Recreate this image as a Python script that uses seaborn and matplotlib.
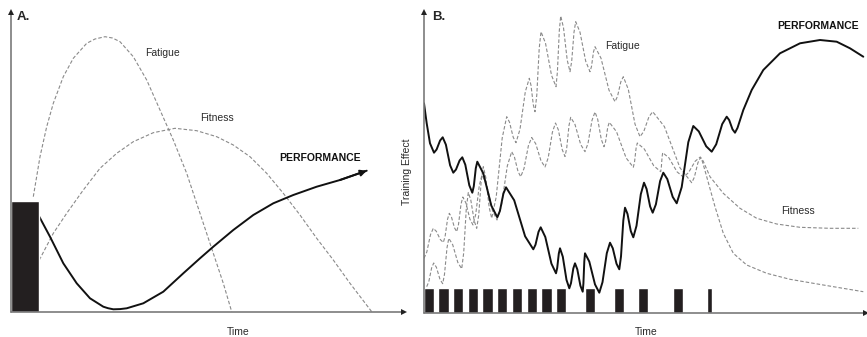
#!/usr/bin/env python3
"""
Two-panel schematic of the fitness-fatigue model: single session (A) vs. a training block (B).
"""

import matplotlib
matplotlib.use("Agg")
import matplotlib.pyplot as plt
import seaborn as sns

# ---- Panel A: single training bout (time / effect units) ----
bout_a_start = [0]
bout_a_len = [28]
bout_a_load = [111]

fatigue_a_t = [22.3, 29, 35.7, 42.3, 52.3, 62.3, 75.7, 84, 94, 101.5, 109, 122.3, 135.7,
               149, 162.3, 175.7, 189, 202.3, 212.3, 220.7]
fatigue_a_v = [115.3, 155.3, 185.3, 208.7, 235.3, 253.7, 268.7, 273, 275.3, 274, 270.3,
               255.3, 232, 202, 172, 138.7, 98.7, 58.7, 28.7, 0.3]

fitness_a_t = [28.3, 42.3, 55.7, 72.3, 89, 105.7, 122.3, 142.3, 164, 185.7, 205.7,
               222.3, 239, 255.7, 272.3, 289, 305.7, 322.3, 339, 360.7]
fitness_a_v = [52, 78.7, 98.7, 122, 143.7, 158.7, 170.3, 179.3, 183.7, 181.3, 175.3,
               167, 155.3, 138.7, 118.7, 97, 73.7, 52, 28.7, 0.3]

perf_a_t = [28.3, 39, 52.3, 65.7, 79, 92.3, 97, 102.3, 109, 115.7, 132.3, 152.3, 172.3,
            189, 202.3, 222.3, 242.3, 262.3, 282.3, 305.7, 329, 355.7]
perf_a_v = [95.3, 75.3, 48.7, 28.7, 13.7, 5.3, 3.8, 2.7, 2.9, 3.7, 8.7, 20.3, 38.7,
            53.7, 65.3, 82, 97, 108.7, 117, 125.3, 132, 141.3]

# ---- Panel B: repeated sessions then taper ----
sess_b_start = [0, 14.3, 29.3, 43.7, 58.3, 73, 87.7, 102.7, 117.3, 131.7,
                161, 190, 214.3, 248.7, 282.7]
sess_b_len = [10, 10.7, 10, 10.6, 10.4, 10.3, 10.6, 10, 10.4, 10,
              10, 10, 10, 10, 5]
sess_b_load = [25] * 15

fatigue_b_t = [2.7, 4.8, 7.6, 9.7, 12.4, 16.0, 18.7, 20.5, 23.0, 24.8, 28.7, 33.8,
               37.7, 39.7, 42.3, 44.3, 46.8, 50.2, 52.7, 54.7, 57.3, 59.3, 61.8, 65.2,
               67.7, 72.2, 78.2, 82.7, 85.5, 89.2, 92, 96.0, 101.3, 105.3, 107.0,
               109.3, 111, 112.8, 115.2, 117, 121.5, 127.5, 132, 133.4, 135.3, 136.7,
               139.5, 143.2, 146, 147.7, 150.0, 151.7, 156.0, 161.7, 166, 167.5, 169.5,
               171, 177, 185, 191, 193.5, 196.8, 199.3, 204.3, 211.0, 216, 219.8, 224.9,
               228.7, 240.4, 256.0, 267.7, 270.3, 273.9, 276.5, 278.4, 282.7, 291,
               299.3, 309.3, 322.7, 342.7, 366, 399.3, 439.3]
fatigue_b_v = [26.3, 31.3, 45.0, 50, 45.7, 33.6, 29.3, 38.8, 65.2, 74.7, 68.3, 50.6,
               44.2, 60.2, 104.5, 120.5, 113.0, 92.2, 84.7, 97.6, 133.4, 146.3, 135.5,
               105.5, 94.7, 116.0, 175.0, 196.3, 190.8, 175.8, 170.3, 183.8, 221.2,
               234.7, 227.7, 208.3, 201.3, 218.1, 264.5, 281.3, 269.8, 237.8, 226.3,
               241.1, 282.2, 297, 285.3, 253.0, 241.3, 251.8, 280.8, 291.3, 280.8,
               251.8, 241.3, 246.6, 261.1, 266.3, 254.8, 222.8, 211.3, 216.6, 231.1,
               236.3, 223.7, 188.9, 176.3, 181.6, 196.1, 201.3, 186.4, 145.2, 130.3,
               135.6, 150.2, 155.5, 151.5, 136.3, 106.3, 79.7, 59.7, 48, 39.7, 33.7,
               28, 21.3]

fitness_b_t = [0, 2.8, 6.5, 9.3, 12.3, 16.3, 19.3, 21.1, 23.5, 25.3, 27.5, 30.5, 32.7,
               34.5, 37.0, 38.8, 41.9, 45.9, 49, 51.7, 55.3, 58, 62.5, 68.5, 73, 77.4,
               83.3, 87.7, 90.4, 94.0, 96.7, 100.0, 104.4, 107.7, 111.7, 117.0, 121,
               124.2, 128.4, 131.5, 134.4, 138.2, 141, 142.7, 145.0, 146.7, 151.0,
               156.7, 161, 164, 168, 171, 173.7, 177.3, 180, 181.6, 183.7, 185.3, 192.5,
               202.1, 209.3, 210.5, 212.1, 213.3, 220.3, 229.7, 236.7, 237.3, 238.1,
               238.7, 244.9, 253.1, 259.3, 264.4, 271.2, 276.3, 279.2, 286, 299.3, 316,
               332.7, 352.7, 376, 406, 434.3]
fitness_b_v = [54.7, 61.0, 78.4, 84.7, 81.7, 73.5, 70.5, 76.6, 93.6, 99.7, 95.8, 85.2,
               81.3, 88.6, 108.7, 116, 110.1, 93.9, 88, 98.5, 127.5, 138, 128.6, 102.4,
               93, 107.3, 147.0, 161.3, 156.1, 141.6, 136.3, 144.5, 167.3, 175.5, 169.3,
               152.2, 146, 155.2, 180.8, 190, 183.0, 163.5, 156.5, 164.7, 187.5, 195.7,
               188.5, 168.5, 161.3, 169.6, 192.7, 201, 193.7, 173.6, 166.3, 171.4,
               185.6, 190.7, 181.3, 155.1, 145.7, 150.8, 164.9, 170, 164.0, 147.3,
               141.3, 145.3, 156.3, 160.3, 155.2, 141.1, 136, 140.2, 151.8, 156, 151.9,
               136.3, 119.7, 104.7, 94.7, 89, 85.7, 84.7, 84.7]

perf_b_t = [0, 2.7, 6, 10, 12.6, 16.1, 18.7, 21.9, 26.1, 29.3, 32.0, 35.6, 38.3, 41.3,
            45.3, 48.3, 49.8, 51.8, 53.3, 59.3, 67.3, 73.3, 75.9, 79.4, 82, 90.2, 101.1,
            109.3, 111.5, 114.5, 116.7, 121.3, 127.4, 132, 133.2, 134.8, 136, 138.8,
            142.5, 145.3, 147.0, 149.3, 151, 153.3, 156.4, 158.7, 159.4, 160.3, 161,
            165.3, 171.0, 175.3, 178.5, 182.8, 186, 188.8, 192.5, 195.3, 197.0, 199.3,
            201, 203.5, 206.8, 209.3, 212.5, 216.8, 220, 222.6, 226.1, 228.7, 231.9,
            236.1, 239.3, 243.3, 248.7, 252.7, 257.7, 264.3, 269.3, 274.8, 282.2,
            287.7, 292.2, 298.2, 302.7, 305.2, 308.5, 311, 313.5, 319.3, 327.7, 339.3,
            356, 376, 396, 412.7, 426, 439.3]
perf_b_v = [209.7, 189.7, 169.7, 160.3, 163.5, 172.5, 175.7, 168.3, 147.7, 140.3, 143.5,
            152.5, 155.7, 148.3, 127.7, 120.3, 126.8, 144.8, 151.3, 139.6, 107.4, 95.7,
            102.0, 119.4, 125.7, 112.7, 76.7, 63.7, 68.3, 81.1, 85.7, 76.0, 49.4, 39.7,
            45.0, 59.4, 64.7, 56.3, 33.1, 24.7, 29.9, 44.5, 49.7, 43.7, 27.3, 21.3,
            29.4, 51.6, 59.7, 51.4, 28.6, 20.3, 30.8, 59.8, 70.3, 64.7, 49.3, 43.7,
            56.6, 92.4, 105.3, 99.1, 81.9, 75.7, 87.2, 118.8, 130.3, 124.0, 106.6,
            100.3, 108.7, 131.9, 140.3, 133.9, 116.1, 109.7, 125.9, 170.8, 187, 181.6,
            166.7, 161.3, 168.7, 188.9, 196.3, 192.9, 183.7, 180.3, 185.1, 203, 223,
            243, 259.7, 269.7, 273, 271.3, 264.7, 256.3]

DASH_GREY = "#8a8a8a"
BAR_BLACK = "#231f20"
AXIS_GREY = "#7a7a7a"
TEXT_COL = "#2a2a2a"
DASHES = (0, (3.2, 1.8))

sns.set_style("white")
plt.rcParams["font.family"] = ["Liberation Sans", "DejaVu Sans"]


def draw_axes_arrows(ax, xmax, ymax):
    """Grey axis lines with small dark arrow heads, no spines/ticks."""
    for s in ax.spines.values():
        s.set_visible(False)
    ax.set_xticks([])
    ax.set_yticks([])
    ax.plot([0, xmax], [0, 0], color=AXIS_GREY, lw=1.2, clip_on=False, zorder=4)
    ax.plot([0, 0], [0, ymax], color=AXIS_GREY, lw=1.2, clip_on=False, zorder=4)
    ax.plot([xmax], [0], marker=">", ms=4.5, color="#222222", clip_on=False,
            zorder=5, markeredgewidth=0)
    ax.plot([0], [ymax], marker="^", ms=4.5, color="#222222", clip_on=False,
            zorder=5, markeredgewidth=0)


def dashed(ax, t, v):
    sns.lineplot(x=t, y=v, ax=ax, color=DASH_GREY, lw=0.8, linestyle=DASHES,
                 sort=False, estimator=None)


fig = plt.figure(figsize=(8.67, 3.37), dpi=100)

# Panel A
ax_a = fig.add_axes([11 / 867, 25 / 337, 393 / 867, 300 / 337])
ax_a.set_xlim(0, 393)
ax_a.set_ylim(0, 300)
ax_a.bar(bout_a_start, bout_a_load, width=bout_a_len, align="edge",
         color=BAR_BLACK, zorder=3)
dashed(ax_a, fatigue_a_t, fatigue_a_v)
dashed(ax_a, fitness_a_t, fitness_a_v)
sns.lineplot(x=perf_a_t, y=perf_a_v, ax=ax_a, color="#111111", lw=1.4,
             sort=False, estimator=None)
ax_a.annotate("", xy=(perf_a_t[-1], perf_a_v[-1]), xytext=(perf_a_t[-2], perf_a_v[-2]),
              arrowprops=dict(arrowstyle="-|>", color="#111111", lw=1.4,
                              mutation_scale=9, shrinkA=0, shrinkB=0))
draw_axes_arrows(ax_a, 393, 300)
ax_a.text(5.5, 295, "A.", fontsize=9.5, fontweight="bold", va="center", ha="left")
ax_a.text(152, 259, "Fatigue", fontsize=7.5, ha="center", va="center", color=TEXT_COL)
ax_a.text(206, 194, "Fitness", fontsize=7.5, ha="center", va="center", color=TEXT_COL)
ax_a.text(309, 154, "PERFORMANCE", fontsize=7.5, fontweight="bold",
          ha="center", va="center", color="#111111")
ax_a.text(227, -20, "Time", fontsize=7.5, ha="center", va="center", color=TEXT_COL)

# Panel B
ax_b = fig.add_axes([424 / 867, 24 / 337, 442 / 867, 301 / 337])
ax_b.set_xlim(0, 442)
ax_b.set_ylim(0, 301)
ax_b.bar(sess_b_start, sess_b_load, width=sess_b_len, align="edge",
         color=BAR_BLACK, zorder=3)
dashed(ax_b, fatigue_b_t, fatigue_b_v)
dashed(ax_b, fitness_b_t, fitness_b_v)
sns.lineplot(x=perf_b_t, y=perf_b_v, ax=ax_b, color="#111111", lw=1.4,
             sort=False, estimator=None, zorder=4)
draw_axes_arrows(ax_b, 442, 301)
ax_b.text(8, 296, "B.", fontsize=9.5, fontweight="bold", va="center", ha="left")
ax_b.text(198.7, 267.3, "Fatigue", fontsize=7.5, ha="center", va="center", color=TEXT_COL)
ax_b.text(374.3, 102, "Fitness", fontsize=7.5, ha="center", va="center", color=TEXT_COL)
ax_b.text(394.3, 287.3, "PERFORMANCE", fontsize=7.5, fontweight="bold",
          ha="center", va="center", color="#111111")
ax_b.text(222.7, -18.7, "Time", fontsize=7.5, ha="center", va="center", color=TEXT_COL)
ax_b.text(-16.5, 141, "Training Effect", fontsize=7.5, rotation=90,
          ha="center", va="center", color=TEXT_COL)

fig.savefig("out.png", dpi=100)
plt.close(fig)
